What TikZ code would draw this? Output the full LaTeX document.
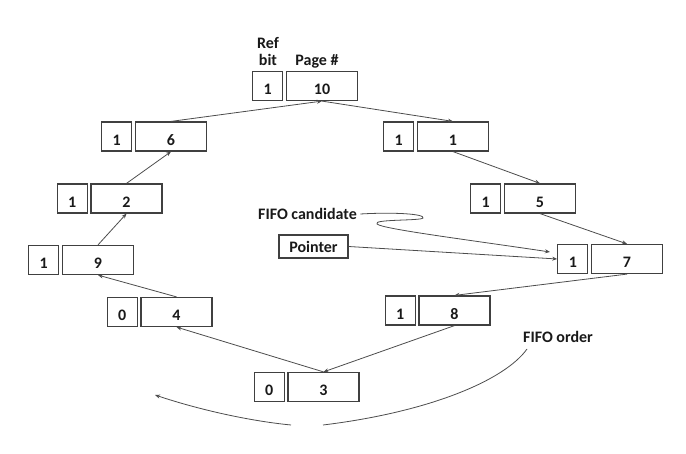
\documentclass[tikz,border=0pt]{standalone}
\usepackage{fontspec}
\setmainfont{Carlito}
\usepackage{xcolor}
\usetikzlibrary{positioning,arrows.meta}

\begin{document}
\begin{tikzpicture}[
    x=1pt, y=-1pt,
    font=\fontsize{16}{18}\selectfont\bfseries,
    text=black!90,
    pagebox/.style={rectangle,draw=black!75,line width=1.2pt,minimum width=71pt,minimum height=29pt,text height=18pt,text depth=0pt,inner sep=0pt},
    refbox/.style={pagebox,minimum width=30pt},
    link/.style={-{Stealth[length=5pt,width=4pt]},draw=black!70,line width=0.8pt}
]
    \useasboundingbox (0,0) rectangle (686,454);

    % Page boxes around the ring
    \node[pagebox] (p10) at (322,86) {10};
    \node[pagebox] (p1) at (453,136.5) {1};
    \node[pagebox] (p5) at (540,198.5) {5};
    \node[pagebox] (p7) at (627,259) {7};
    \node[pagebox] (p8) at (454.5,310.5) {8};
    \node[pagebox] (p3) at (323.5,387) {3};
    \node[pagebox] (p4) at (176.5,312) {4};
    \node[pagebox] (p9) at (98,260) {9};
    \node[pagebox] (p2) at (126.5,198.5) {2};
    \node[pagebox] (p6) at (171,136.5) {6};

    % Reference bits
    \node[refbox,left=2.5pt of p10] (r10) {1};
    \node[refbox,left=2.5pt of p1] (r1) {1};
    \node[refbox,left=2.5pt of p5] (r5) {1};
    \node[refbox,left=2.5pt of p7] (r7) {1};
    \node[refbox,left=2.5pt of p8] (r8) {1};
    \node[refbox,left=2.5pt of p3] (r3) {0};
    \node[refbox,left=2.5pt of p4] (r4) {0};
    \node[refbox,left=2.5pt of p9] (r9) {1};
    \node[refbox,left=2.5pt of p2] (r2) {1};
    \node[refbox,left=2.5pt of p6] (r6) {1};

    % Column headings
    \node[anchor=base] (reflbl) at (268,49) {Ref};
    \node[anchor=base] (bitlbl) at (268,66) {bit};
    \node[anchor=base] (pagelbl) at (317,66) {Page \#};

    % Ring of pages
    \draw[link] (p6.north) -- (p10.south);
    \draw[link] (p10.south) -- (p1.north);
    \draw[link] (p1.south) -- (p5.north);
    \draw[link] (p5.south) -- (p7.north);
    \draw[link] (p7.south) -- (p8.north);
    \draw[link] (p8.south) -- (p3.north);
    \draw[link] (p3.north) -- (p4.south);
    \draw[link] (p4.north) -- (p9.south);
    \draw[link] (p9.north) -- (p2.south);
    \draw[link] (p2.north) -- (p6.south);

    % Pointer and candidate
    \node[draw=black!75,line width=1.2pt,minimum width=69pt,minimum height=23pt,inner sep=0pt] (pointer) at (313.5,246.5) {Pointer};
    \node (cand) at (307.5,214) {FIFO candidate};
    \coordinate (candtip) at (550,252);
    \draw[link] (pointer.east) -- (r7.west);
    \draw[link] (cand.east) .. controls (395,212) and (425,214) .. (423,218)
        .. controls (421,221) and (372,219) .. (377,224)
        .. controls (382,229) and (470,240) .. (candtip);

    % FIFO order
    \node (order) at (558,337) {FIFO order};
    \coordinate (ordtop) at (527,349);
    \coordinate (ordmid) at (323,425);
    \coordinate (ordgap) at (291,425);
    \coordinate (ordtip) at (155,395);
    \draw[draw=black!70,line width=0.8pt] (ordtop) .. controls (505,380) and (430,412) .. (ordmid);
    \draw[link] (ordgap) .. controls (250,421) and (200,410) .. (ordtip);
\end{tikzpicture}
\end{document}
